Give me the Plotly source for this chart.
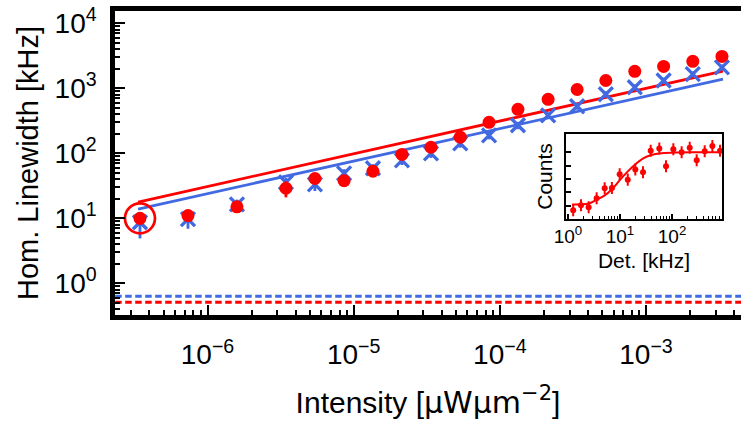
import plotly.graph_objects as go

# ---------------- main data ----------------
intensity = [3.45e-7, 7.35e-7, 1.59e-6, 3.44e-6, 5.43e-6, 8.6e-6, 1.355e-5, 2.14e-5,
             3.38e-5, 5.36e-5, 8.44e-5, 1.33e-4, 2.14e-4, 3.38e-4, 5.31e-4, 8.38e-4,
             1.32e-3, 2.09e-3, 3.31e-3]
red_lw = [10, 11, 15, 29, 41, 38, 53, 96, 124, 177, 300, 476, 678, 960, 1320, 1830,
          2170, 2600, 3100]
red_err = [2, 2, 2.5, 8, 6, 5, 7, 12, 15, 20, 30, 40, 50, 70, 90, 120, 140, 160, 200]
blue_lw = [8.7, 9.7, 16.4, 35.7, 33.3, 49, 59, 78, 100, 142, 189, 270, 383, 530, 811,
           1040, 1320, 1650, 2100]
blue_err = [3.8, 2.8, 3, 6, 7, 8, 9, 12, 15, 20, 25, 35, 45, 60, 90, 110, 140, 170, 220]

fit_x = [3.35e-7, 3.365e-3]
red_fit = [17.8, 1845]
blue_fit = [13.9, 1390]

span_x = [1e-8, 1e-1]
red_limit = 0.51
blue_limit = 0.63

x_ticks = [1e-6, 1e-5, 1e-4, 1e-3]
x_ticktext = ["10<sup>−6</sup>", "10<sup>−5</sup>", "10<sup>−4</sup>", "10<sup>−3</sup>"]
y_ticks = [1, 10, 100, 1000, 10000]
y_ticktext = ["10<sup>0</sup>", "10<sup>1</sup>", "10<sup>2</sup>", "10<sup>3</sup>", "10<sup>4</sup>"]

# ---------------- inset data ----------------
det = [1.26, 1.78, 2.5, 3.56, 5.08, 7.0, 9.86, 14.1, 19.7, 27.7, 38.9, 57, 76.7, 106,
       153, 219, 298, 425, 596, 838]
counts = [-0.35, 0.04, -0.12, 0.55, 1.30, 1.33, 2.36, 1.95, 2.70, 2.50, 4.12, 4.28,
          2.95, 4.23, 4.0, 4.33, 3.40, 4.08, 4.47, 4.11]
counts_err = [0.45, 0.45, 0.45, 0.45, 0.45, 0.45, 0.45, 0.45, 0.45, 0.45,
              0.45, 0.45, 0.45, 0.45, 0.45, 0.45, 0.45, 0.45, 0.45, 0.45]
det_fit = [1.2, 1.8, 2.5, 3.5, 5.0, 7.1, 10, 14, 20, 28, 40, 63, 126, 300, 850]
counts_fit = [0.08, 0.1, 0.16, 0.43, 0.75, 1.25, 1.93, 2.55, 3.12, 3.55, 3.8, 3.93,
              3.99, 4.0, 4.0]
inset_xticks = [1, 10, 100]
inset_xticktext = ["10<sup>0</sup>", "10<sup>1</sup>", "10<sup>2</sup>"]
inset_yticks = [0, 1, 2, 3, 4]

RED = "#FF0000"
BLUE = "#4169E1"
FONT = "Liberation Sans, Arial, sans-serif"

fig = go.Figure()

# dashed limits
fig.add_trace(go.Scatter(x=span_x, y=[blue_limit, blue_limit], mode="lines",
                         line=dict(color=BLUE, width=3, dash="6.5px,3.5px"),
                         hoverinfo="skip", showlegend=False))
fig.add_trace(go.Scatter(x=span_x, y=[red_limit, red_limit], mode="lines",
                         line=dict(color=RED, width=3, dash="6.5px,3.5px"),
                         hoverinfo="skip", showlegend=False))
# fits
fig.add_trace(go.Scatter(x=fit_x, y=blue_fit, mode="lines",
                         line=dict(color=BLUE, width=2.8), showlegend=False))
fig.add_trace(go.Scatter(x=fit_x, y=red_fit, mode="lines",
                         line=dict(color=RED, width=2.8), showlegend=False))
# blue data
fig.add_trace(go.Scatter(x=intensity, y=blue_lw, mode="markers",
                         marker=dict(symbol="x-thin", size=14, color=BLUE,
                                     line=dict(color=BLUE, width=3.3)),
                         error_y=dict(type="data", array=blue_err, color=BLUE,
                                      thickness=2.8, width=0),
                         showlegend=False))
# red data
fig.add_trace(go.Scatter(x=intensity, y=red_lw, mode="markers",
                         marker=dict(symbol="circle", size=13, color=RED),
                         error_y=dict(type="data", array=red_err, color=RED,
                                      thickness=2.8, width=0),
                         showlegend=False))
# highlight circle around first point
fig.add_trace(go.Scatter(x=intensity[:1], y=red_lw[:1], mode="markers",
                         marker=dict(symbol="circle-open", size=30, color=RED,
                                     line=dict(color=RED, width=2.7)),
                         showlegend=False))

# inset
fig.add_trace(go.Scatter(x=det_fit, y=counts_fit, mode="lines", xaxis="x2", yaxis="y2",
                         line=dict(color=RED, width=2, shape="spline", smoothing=1.0),
                         showlegend=False))
fig.add_trace(go.Scatter(x=det, y=counts, mode="markers", xaxis="x2", yaxis="y2",
                         marker=dict(symbol="circle", size=6, color=RED),
                         error_y=dict(type="data", array=counts_err, color=RED,
                                      thickness=2, width=0),
                         showlegend=False))

fig.update_layout(
    width=741, height=423,
    margin=dict(l=115, r=0, t=11, b=108),
    paper_bgcolor="white", plot_bgcolor="white",
    font=dict(family=FONT, color="black"),
    xaxis=dict(
        type="log", range=[-6.633, -2.35],
        tickmode="array", tickvals=x_ticks, ticktext=x_ticktext,
        tickfont=dict(size=28), ticks="inside", ticklen=10, tickwidth=2,
        tickcolor="black", showline=True, linewidth=4.5, linecolor="black",
        mirror=True, showgrid=False, zeroline=False,
        minor=dict(ticks="inside", ticklen=5, tickwidth=1.5, tickcolor="black",
                   dtick="D1", showgrid=False),
        title=dict(text="Intensity [<span style='font-family:DejaVu Sans'>µWµm<sup>−2</sup></span>]",
                   font=dict(size=30), standoff=24),
        ticklabelstandoff=11,
    ),
    yaxis=dict(
        type="log", range=[-0.488, 4.19],
        tickmode="array", tickvals=y_ticks, ticktext=y_ticktext,
        tickfont=dict(size=28), ticks="inside", ticklen=10, tickwidth=2,
        tickcolor="black", showline=True, linewidth=4.5, linecolor="black",
        mirror=False, showgrid=False, zeroline=False,
        minor=dict(ticks="inside", ticklen=5, tickwidth=1.5, tickcolor="black",
                   dtick="D1", showgrid=False),
        title=dict(text="Hom. Linewidth [kHz]", font=dict(size=29), standoff=9),
        ticklabelstandoff=8,
    ),
    xaxis2=dict(
        type="log", range=[-0.038, 2.96], domain=[0.7204, 0.9696], anchor="y2",
        tickmode="array", tickvals=inset_xticks, ticktext=inset_xticktext,
        tickfont=dict(size=19), ticks="inside", ticklen=5, tickwidth=1.5,
        tickcolor="black", showline=True, linewidth=2, linecolor="black",
        mirror=True, showgrid=False, zeroline=False,
        minor=dict(ticks="inside", ticklen=3, tickwidth=1, tickcolor="black",
                   dtick="D1", showgrid=False),
        title=dict(text="Det. [kHz]", font=dict(size=21), standoff=7),
    ),
    yaxis2=dict(
        range=[-0.96, 5.33], domain=[0.3174, 0.5938], anchor="x2",
        tickmode="array", tickvals=inset_yticks, showticklabels=False,
        ticks="inside", ticklen=5, tickwidth=1.5, tickcolor="black",
        showline=True, linewidth=2, linecolor="black", mirror=True,
        showgrid=False, zeroline=False,
        title=dict(text="Counts", font=dict(size=21), standoff=6),
    ),
)

fig.write_html("out.html")
